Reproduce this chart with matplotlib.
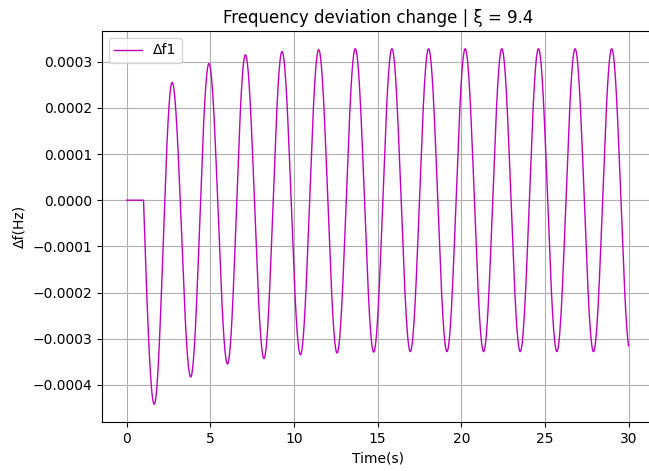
import numpy as np
import matplotlib
matplotlib.use("Agg")
import matplotlib.pyplot as plt

# Response: flat start, then extrema (time, value)
t_start = [0.0, 1.0]
v_start = [0.0, 0.0]
ext_t = [1.64, 2.71, 3.82, 4.91, 6.02, 7.09, 8.20, 9.28, 10.38, 11.47, 12.57,
         13.66, 14.76, 15.85, 16.95, 18.04, 19.14, 20.23, 21.33, 22.42, 23.52,
         24.61, 25.71, 26.80, 27.90, 28.99, 30.09]
ext_v = [-0.000442, 0.000255, -0.000383, 0.000296, -0.000355, 0.000315,
         -0.000343, 0.000322, -0.000335, 0.000326, -0.000331, 0.000328,
         -0.000329, 0.000328, -0.000328, 0.000328, -0.000328, 0.000328,
         -0.000328, 0.000328, -0.000328, 0.000328, -0.000328, 0.000328,
         -0.000328, 0.000328, -0.000328]
t_end = 30.0

# build a smooth trace through the read extrema
ts = list(np.linspace(t_start[0], t_start[1], 20))
vs = [v_start[0]] * 20
s = np.linspace(0, 1, 60)[1:]
ts += list(t_start[1] + s * (ext_t[0] - t_start[1]))
vs += list(ext_v[0] * np.sin(np.pi / 2 * s))
for i in range(len(ext_t) - 1):
    s = np.linspace(0, 1, 80)[1:]
    tt = ext_t[i] + s * (ext_t[i + 1] - ext_t[i])
    vv = ext_v[i] + (ext_v[i + 1] - ext_v[i]) * (1 - np.cos(np.pi * s)) / 2
    ts += list(tt)
    vs += list(vv)
ts = np.array(ts)
vs = np.array(vs)
mask = ts <= t_end
ts, vs = ts[mask], vs[mask]

fig = plt.figure(figsize=(6.49, 4.71), dpi=100)
ax = fig.add_axes([101.7 / 649, 49 / 471, 552 / 649, 391 / 471])
ax.plot(ts, vs, color='m', linewidth=1.0, label='Δf1')
ax.set_xlim(-1.5, 31.5)
ax.set_title('Frequency deviation change | ξ = 9.4', fontsize=12)
ax.set_xlabel('Time(s)')
ax.set_ylabel('Δf(Hz)')
ax.grid(True)
ax.legend(loc='upper left')
fig.savefig('out.png', dpi=100)
